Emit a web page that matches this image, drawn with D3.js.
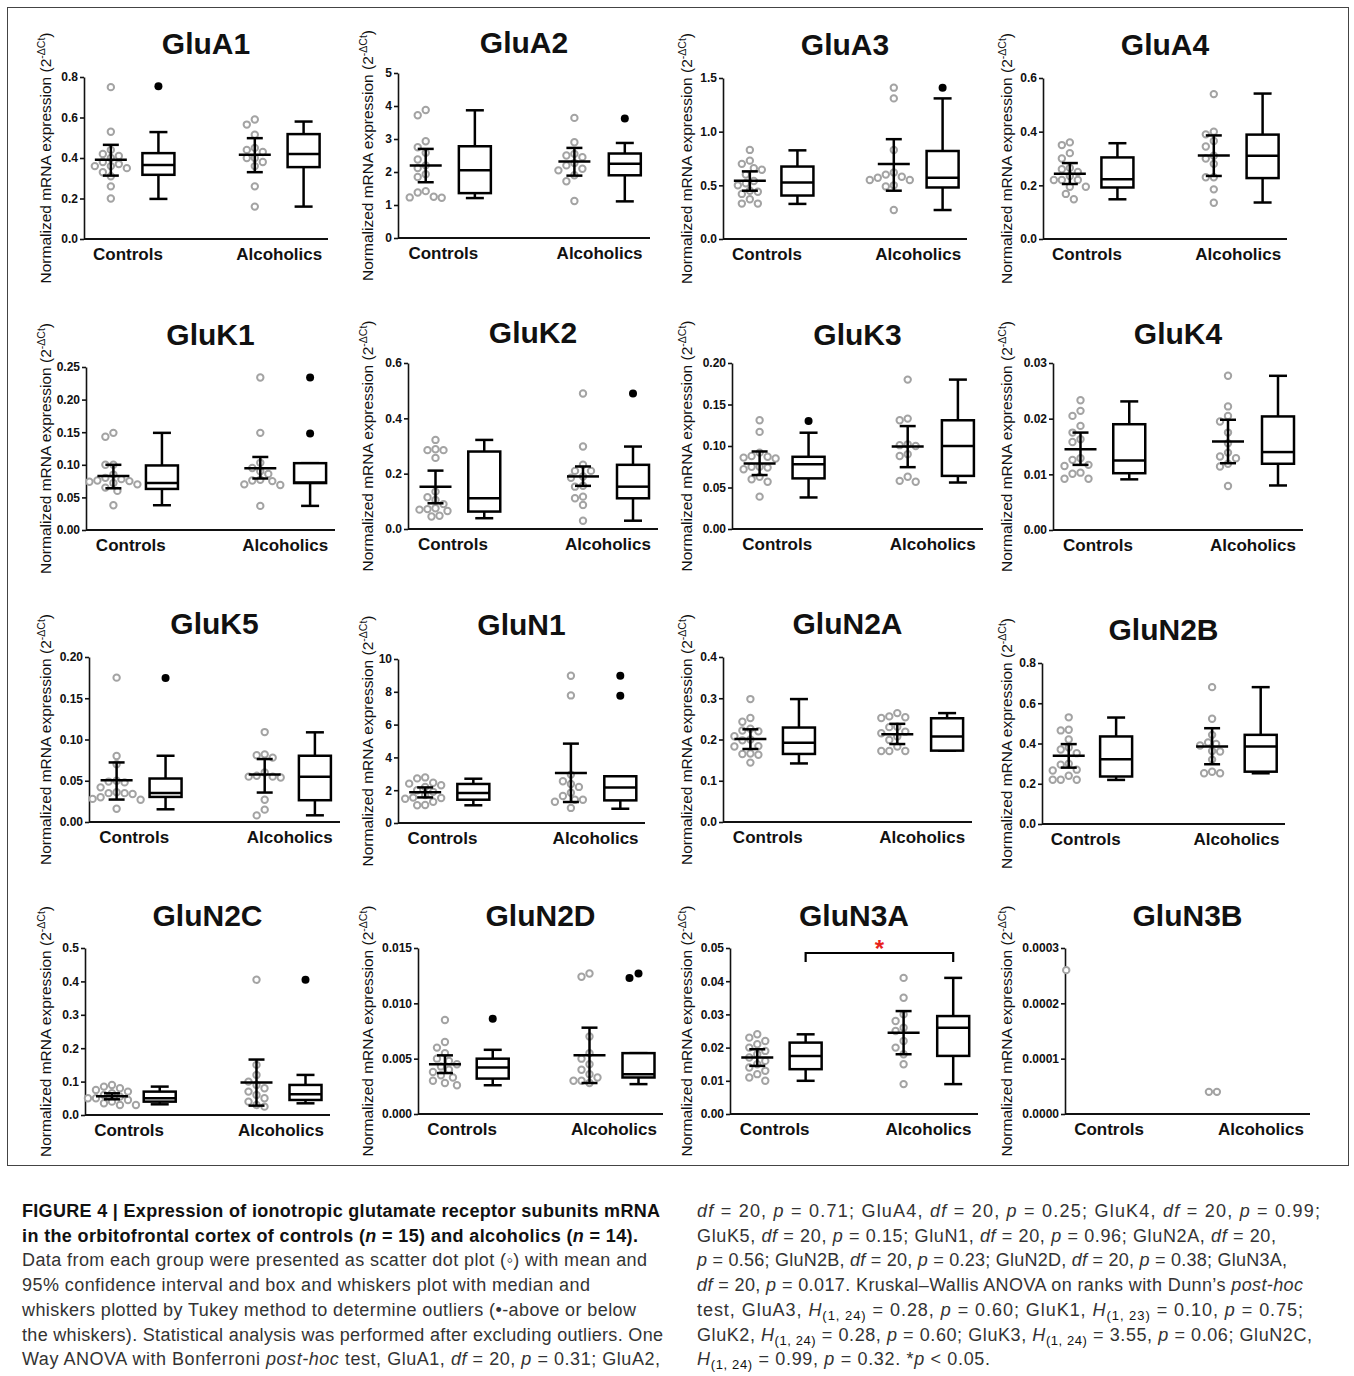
<!DOCTYPE html>
<html><head><meta charset="utf-8">
<script src="https://cdn.jsdelivr.net/npm/d3@7"></script>
<style>
body{margin:0;background:#fff;}
svg text{font-family:Arial,"Liberation Sans",Helvetica,sans-serif;}
</style></head>
<body>
<svg id="fig" width="1354" height="1376"></svg>
<script>
// ---------------- DATA ----------------
const panelNames = ["GluA1","GluA2","GluA3","GluA4","GluK1","GluK2","GluK3","GluK4","GluK5","GluN1","GluN2A","GluN2B","GluN2C","GluN2D","GluN3A","GluN3B"];
const groupLabels = ["Controls","Alcoholics"];
const yMax   = [0.8, 5, 1.5, 0.6, 0.25, 0.6, 0.20, 0.03, 0.20, 10, 0.4, 0.8, 0.5, 0.015, 0.05, 0.0003];
const yStep  = [0.2, 1, 0.5, 0.2, 0.05, 0.2, 0.05, 0.01, 0.05, 2, 0.1, 0.2, 0.1, 0.005, 0.01, 0.0001];
const yDecimals = [1, 0, 1, 1, 2, 1, 2, 2, 2, 0, 1, 1, 1, 3, 2, 4];

const ctrlPoints = [
  [0.75,0.53,0.44,0.42,0.41,0.40,0.38,0.37,0.36,0.36,0.35,0.33,0.31,0.26,0.20],
  [3.88,3.72,2.93,2.75,2.58,2.38,2.20,2.12,1.93,1.85,1.42,1.38,1.25,1.22,1.23],
  [0.83,0.73,0.70,0.66,0.645,0.60,0.54,0.52,0.50,0.45,0.44,0.42,0.37,0.33,0.33],
  [0.35,0.36,0.32,0.30,0.265,0.26,0.25,0.235,0.22,0.22,0.22,0.195,0.195,0.168,0.148],
  [0.149,0.143,0.10,0.10,0.085,0.08,0.078,0.076,0.075,0.074,0.072,0.07,0.065,0.06,0.038],
  [0.322,0.288,0.285,0.285,0.257,0.135,0.115,0.105,0.09,0.075,0.072,0.07,0.065,0.048,0.045],
  [0.131,0.117,0.092,0.088,0.087,0.086,0.085,0.075,0.074,0.072,0.075,0.063,0.06,0.057,0.039],
  [0.0233,0.0214,0.0205,0.0187,0.0175,0.0163,0.0158,0.0129,0.0126,0.0117,0.0115,0.0101,0.0103,0.0092,0.0092],
  [0.175,0.080,0.070,0.050,0.049,0.048,0.042,0.036,0.035,0.034,0.035,0.028,0.027,0.030,0.016],
  [2.72,2.78,2.40,2.45,2.30,2.20,2.00,1.90,1.70,1.55,1.52,1.48,1.30,1.10,1.08],
  [0.298,0.252,0.243,0.226,0.22,0.222,0.208,0.2,0.198,0.183,0.184,0.166,0.163,0.165,0.144],
  [0.53,0.468,0.465,0.42,0.38,0.37,0.352,0.30,0.295,0.266,0.27,0.24,0.22,0.22,0.22],
  [0.09,0.085,0.08,0.075,0.07,0.065,0.06,0.055,0.05,0.05,0.045,0.04,0.035,0.03,0.03],
  [0.0085,0.0065,0.006,0.0055,0.005,0.0048,0.0045,0.0043,0.004,0.0038,0.0035,0.0033,0.003,0.0028,0.0026],
  [0.024,0.023,0.022,0.021,0.02,0.019,0.018,0.017,0.016,0.015,0.014,0.013,0.012,0.011,0.01],
  [0.00026]
];
const alcPoints = [
  [0.59,0.565,0.515,0.44,0.43,0.45,0.40,0.40,0.38,0.36,0.26,0.16],
  [3.64,2.90,2.55,2.50,2.45,2.27,2.20,2.10,2.05,1.90,1.72,1.12],
  [1.41,1.31,0.83,0.62,0.60,0.58,0.57,0.55,0.55,0.50,0.49,0.27],
  [0.54,0.40,0.39,0.365,0.345,0.31,0.30,0.28,0.23,0.23,0.185,0.135],
  [0.234,0.149,0.103,0.095,0.09,0.086,0.077,0.076,0.075,0.07,0.069,0.037],
  [0.49,0.298,0.232,0.21,0.21,0.19,0.185,0.156,0.153,0.117,0.111,0.087,0.03],
  [0.18,0.133,0.131,0.102,0.101,0.10,0.09,0.088,0.063,0.058,0.057],
  [0.0277,0.0222,0.0205,0.0195,0.0175,0.0156,0.0139,0.0132,0.0129,0.0119,0.0114,0.0079],
  [0.109,0.082,0.081,0.078,0.06,0.056,0.055,0.055,0.054,0.027,0.015,0.008],
  [8.98,7.78,2.95,2.55,2.38,2.2,1.85,1.65,1.42,1.42,1.3,0.92],
  [0.256,0.252,0.254,0.264,0.23,0.231,0.219,0.215,0.207,0.199,0.172,0.172,0.172,0.183],
  [0.68,0.523,0.443,0.398,0.405,0.39,0.363,0.36,0.32,0.26,0.252,0.252],
  [0.405,0.15,0.12,0.10,0.09,0.08,0.07,0.06,0.05,0.04,0.03,0.025],
  [0.0127,0.0124,0.007,0.0055,0.005,0.0045,0.004,0.0036,0.0033,0.003,0.003,0.0028],
  [0.041,0.035,0.03,0.028,0.026,0.025,0.022,0.02,0.018,0.015,0.009],
  [0.00004,0.00004]
];
// [mean, CI low, CI high]
const ctrlMeanCI = [
  [0.391,0.313,0.465],[2.20,1.69,2.70],[0.542,0.45,0.63],[0.243,0.205,0.283],
  [0.083,0.064,0.100],[0.153,0.093,0.211],[0.079,0.065,0.0934],[0.0145,0.0117,0.0175],
  [0.0507,0.0272,0.0722],[1.87,1.56,2.17],[0.201,0.177,0.2247],[0.339,0.28,0.397],
  [0.056,0.047,0.065],[0.0045,0.0037,0.0053],[0.017,0.0145,0.0195],null
];
const alcMeanCI = [
  [0.416,0.33,0.498],[2.32,1.89,2.73],[0.698,0.45,0.93],[0.311,0.235,0.386],
  [0.0948,0.079,0.112],[0.19,0.156,0.226],[0.0994,0.0745,0.124],[0.0159,0.012,0.0198],
  [0.0576,0.0357,0.0763],[3.05,1.28,4.84],[0.2125,0.189,0.238],[0.385,0.297,0.476],
  [0.097,0.028,0.166],[0.0053,0.0028,0.0078],[0.0245,0.018,0.031],null
];
// [whisker low, Q1, median, Q3, whisker high]
const ctrlBox = [
  [0.198,0.317,0.366,0.424,0.528],[1.21,1.36,2.05,2.78,3.87],[0.327,0.405,0.526,0.675,0.826],[0.148,0.192,0.223,0.304,0.357],
  [0.038,0.063,0.072,0.099,0.149],[0.039,0.063,0.111,0.28,0.322],[0.038,0.061,0.078,0.087,0.116],[0.0091,0.0102,0.0125,0.019,0.0231],
  [0.0154,0.0304,0.0353,0.0527,0.0803],[1.08,1.42,1.83,2.38,2.70],[0.142,0.165,0.192,0.229,0.298],[0.219,0.236,0.322,0.435,0.529],
  [0.032,0.04,0.05,0.07,0.085],[0.0026,0.0032,0.0042,0.005,0.0058],[0.01,0.0135,0.0175,0.0215,0.024],null
];
const alcBox = [
  [0.16,0.355,0.42,0.518,0.58],[1.11,1.90,2.25,2.56,2.88],[0.27,0.48,0.57,0.82,1.31],[0.136,0.227,0.31,0.389,0.542],
  [0.037,0.072,0.073,0.1025,0.1025],[0.03,0.111,0.153,0.232,0.298],[0.056,0.064,0.100,0.131,0.18],[0.008,0.0119,0.014,0.0204,0.0277],
  [0.0081,0.0264,0.0548,0.0803,0.1087],[0.87,1.38,2.17,2.85,2.85],[0.173,0.173,0.207,0.2515,0.264],[0.252,0.26,0.385,0.443,0.68],
  [0.035,0.045,0.062,0.09,0.12],[0.0027,0.0033,0.0036,0.0055,0.0055],[0.009,0.0175,0.026,0.0295,0.041],null
];
const ctrlOutliers = [[0.754],[],[],[],[],[],[0.130],[],[0.1745],[],[],[],[],[0.0086],[],[]];
const alcOutliers  = [[],[3.62],[1.41],[],[0.234,0.148],[0.49],[],[],[],[8.98,7.76],[],[],[0.405],[0.0123,0.0127],[],[]];

const captionLeft = [
  [["FIGURE 4 | Expression of ionotropic glutamate receptor subunits mRNA","b"]],
  [["in the orbitofrontal cortex of controls (","b"],["n","bi"],[" = 15) and alcoholics (","b"],["n","bi"],[" = 14).","b"]],
  [["Data from each group were presented as scatter dot plot (\u25E6) with mean and",""]],
  [["95% confidence interval and box and whiskers plot with median and",""]],
  [["whiskers plotted by Tukey method to determine outliers (\u2022-above or below",""]],
  [["the whiskers). Statistical analysis was performed after excluding outliers. One",""]],
  [["Way ANOVA with Bonferroni ",""],["post-hoc","i"],[" test, GluA1, ",""],["df","i"],[" = 20, ",""],["p","i"],[" = 0.31; GluA2,",""]]
];
const captionRight = [
  [["df","i"],[" = 20, ",""],["p","i"],[" = 0.71; GluA4, ",""],["df","i"],[" = 20, ",""],["p","i"],[" = 0.25; GluK4, ",""],["df","i"],[" = 20, ",""],["p","i"],[" = 0.99;",""]],
  [["GluK5, ",""],["df","i"],[" = 20, ",""],["p","i"],[" = 0.15; GluN1, ",""],["df","i"],[" = 20, ",""],["p","i"],[" = 0.96; GluN2A, ",""],["df","i"],[" = 20,",""]],
  [["p","i"],[" = 0.56; GluN2B, ",""],["df","i"],[" = 20, ",""],["p","i"],[" = 0.23; GluN2D, ",""],["df","i"],[" = 20, ",""],["p","i"],[" = 0.38; GluN3A,",""]],
  [["df","i"],[" = 20, ",""],["p","i"],[" = 0.017. Kruskal\u2013Wallis ANOVA on ranks with Dunn\u2019s ",""],["post-hoc","i"]],
  [["test, GluA3, ",""],["H","i"],["(1, 24)","sub"],[" = 0.28, ",""],["p","i"],[" = 0.60; GluK1, ",""],["H","i"],["(1, 23)","sub"],[" = 0.10, ",""],["p","i"],[" = 0.75;",""]],
  [["GluK2, ",""],["H","i"],["(1, 24)","sub"],[" = 0.28, ",""],["p","i"],[" = 0.60; GluK3, ",""],["H","i"],["(1, 24)","sub"],[" = 3.55, ",""],["p","i"],[" = 0.06; GluN2C,",""]],
  [["H","i"],["(1, 24)","sub"],[" = 0.99, ",""],["p","i"],[" = 0.32. *",""],["p","i"],[" < 0.05.",""]]
];

// ---------------- LAYOUT ----------------
// per panel: [axis x start, axis x end, y of max value, y of zero]
const panelBox = [
  [84,328,77,239],[398,650,73,238],[723,967,78,239],[1043,1287,78,239],
  [86,335,367,530],[408,658,363,529],[732,983,363,529],[1053,1303,363,530],
  [89,340,657,822],[398,645,659,823],[723,972,657,822],[1042,1285,663,824],
  [85,330,948,1115],[418,663,948,1114],[730,978,948,1114],[1065,1310,948,1114]
];
const titleBaseline = [54,53,55,55, 345,343,345,344, 634,635,634,640, 926,926,926,926];
const yLabelX = [51,373,692,1012];
const colFrac = [0.11,0.305,0.70,0.90];
const labelFrac = [0.18,0.80];
const capLeftWidths  = [638,616,625,568,614,641,638];
const capRightWidths = [623,579,590,606,606,615,293];

const svg = d3.select("#fig");
svg.append("rect").attr("x",7.5).attr("y",7.5).attr("width",1341).attr("height",1158)
  .attr("fill","none").attr("stroke","#444").attr("stroke-width",1);

function dodge(vals, y, spacing) {
  const items = vals.map((v,i)=>({v,i,py:y(v)})).sort((a,b)=>a.py-b.py);
  const placed = [];
  const off = new Array(vals.length).fill(0);
  items.forEach(it=>{
    for (let k=0;k<60;k++){
      const c = k===0?0:(k%2?-1:1)*Math.ceil(k/2)*spacing/2;
      const ok = placed.every(p=>Math.hypot(p.x-c,p.y-it.py)>=spacing-0.01);
      if (ok){ off[it.i]=c; placed.push({x:c,y:it.py}); break; }
    }
  });
  return off;
}

const LW = 2.5;
panelNames.forEach((name,p)=>{
  const [x0,x1,yT,yB] = panelBox[p];
  const col = p%4;
  const y = d3.scaleLinear().domain([0,yMax[p]]).range([yB,yT]);
  const x = d3.scaleLinear().domain([0,1]).range([x0,x1]);
  const g = svg.append("g");
  const cf = name==="GluN3B" ? [0.005,0.305,0.62,0.90] : colFrac;

  g.append("text").attr("x",(x0+x1)/2).attr("y",titleBaseline[p]).attr("text-anchor","middle")
    .attr("font-size",30).attr("font-weight","bold").attr("fill","#111").text(name);

  const ticks = d3.range(0, Math.round(yMax[p]/yStep[p])+1).map(k=>k*yStep[p]);
  const ax = g.append("g").attr("transform",`translate(${x0},0)`)
    .call(d3.axisLeft(y).tickValues(ticks).tickSize(4).tickSizeOuter(0).tickPadding(2)
      .tickFormat(d3.format("."+yDecimals[p]+"f")));
  ax.select(".domain").attr("stroke","#111").attr("stroke-width",1.6);
  ax.selectAll(".tick line").attr("stroke","#111").attr("stroke-width",1.6);
  ax.selectAll(".tick text").attr("font-size",12).attr("font-weight","bold").attr("fill","#111")
    .style("font-family","Arial,'Liberation Sans',sans-serif");
  g.append("line").attr("x1",x0).attr("x2",x1).attr("y1",yB).attr("y2",yB)
    .attr("stroke","#111").attr("stroke-width",1.8);
  groupLabels.forEach((lab,i)=>{
    g.append("text").attr("x",x(labelFrac[i])).attr("y",yB+21).attr("text-anchor","middle")
      .attr("font-size",17).attr("font-weight","bold").attr("fill","#111").text(lab);
  });
  const yl = g.append("text").attr("transform",`translate(${yLabelX[col]},${(yT+yB)/2}) rotate(-90)`)
    .attr("text-anchor","middle").attr("font-size",15.5).attr("fill","#111");
  yl.append("tspan").text("Normalized mRNA expression (2");
  yl.append("tspan").attr("dy",-6).attr("font-size",10.5).text("-\u0394Ct");
  yl.append("tspan").attr("dy",6).text(")");

  const groups = [
    {pts:ctrlPoints[p], mc:ctrlMeanCI[p], box:ctrlBox[p], out:ctrlOutliers[p], xs:x(cf[0]), xb:x(cf[1])},
    {pts:alcPoints[p],  mc:alcMeanCI[p],  box:alcBox[p],  out:alcOutliers[p],  xs:x(cf[2]), xb:x(cf[3])}
  ];
  groups.forEach(gr=>{
    const off = dodge(gr.pts, y, 8);
    g.selectAll(null).data(gr.pts).join("circle")
      .attr("cx",(d,i)=>gr.xs+off[i]).attr("cy",d=>y(d)).attr("r",3.2)
      .attr("fill","#fff").attr("stroke","#a3a3a3").attr("stroke-width",2);
    if (gr.mc){
      const [m,lo,hi] = gr.mc;
      const mg = g.append("g").attr("stroke","#000").attr("stroke-width",LW).attr("fill","none");
      mg.append("line").attr("x1",gr.xs).attr("x2",gr.xs).attr("y1",y(lo)).attr("y2",y(hi));
      mg.append("line").attr("x1",gr.xs-16).attr("x2",gr.xs+16).attr("y1",y(m)).attr("y2",y(m));
      [lo,hi].forEach(v=>mg.append("line").attr("x1",gr.xs-8).attr("x2",gr.xs+8).attr("y1",y(v)).attr("y2",y(v)));
    }
    if (gr.box){
      const [wl,q1,md,q3,wh] = gr.box;
      const bg = g.append("g").attr("stroke","#000").attr("stroke-width",LW);
      bg.append("line").attr("x1",gr.xb).attr("x2",gr.xb).attr("y1",y(wl)).attr("y2",y(wh));
      [wl,wh].forEach(v=>bg.append("line").attr("x1",gr.xb-9).attr("x2",gr.xb+9).attr("y1",y(v)).attr("y2",y(v)));
      bg.append("rect").attr("x",gr.xb-16).attr("width",32).attr("y",y(q3)).attr("height",Math.max(0.01,y(q1)-y(q3)))
        .attr("fill","#fff");
      bg.append("line").attr("x1",gr.xb-16).attr("x2",gr.xb+16).attr("y1",y(md)).attr("y2",y(md));
    }
    const oo = dodge(gr.out, y, 9);
    g.selectAll(null).data(gr.out).join("circle")
      .attr("cx",(d,i)=>gr.xb+oo[i]).attr("cy",d=>y(d)).attr("r",4).attr("fill","#000");
  });

  if (name==="GluN3A"){
    const xa = groups[0].xb, xb = groups[1].xb, yy = y(0.0485);
    g.append("path").attr("d",`M${xa},${yy+9}V${yy}H${xb}V${yy+9}`).attr("fill","none")
      .attr("stroke","#000").attr("stroke-width",2.2);
    g.append("text").attr("x",(xa+xb)/2).attr("y",yy+4).attr("text-anchor","middle")
      .attr("font-size",24).attr("font-weight","bold").attr("fill","#e8221c").text("*");
  }
});

function writeLines(lines, widths, x0, y0, dy){
  lines.forEach((segs,li)=>{
    const t = svg.append("text").attr("x",x0).attr("y",y0+li*dy).attr("font-size",18).attr("fill","#333")
      .attr("textLength",widths[li]).attr("lengthAdjust","spacing");
    let shifted = false;
    segs.forEach(([s,st])=>{
      const ts = t.append("tspan").text(s);
      if (st.includes("b")) ts.attr("font-weight","bold").attr("fill","#111");
      if (st.includes("i")) ts.attr("font-style","italic");
      if (st==="sub"){ ts.attr("font-size",13).attr("font-weight","normal").attr("dy",4); shifted=true; }
      else if (shifted){ ts.attr("dy",-4); shifted=false; }
    });
  });
}
writeLines(captionLeft, capLeftWidths, 22, 1217, 24.7);
writeLines(captionRight, capRightWidths, 697, 1217, 24.7);
</script>
</body></html>
